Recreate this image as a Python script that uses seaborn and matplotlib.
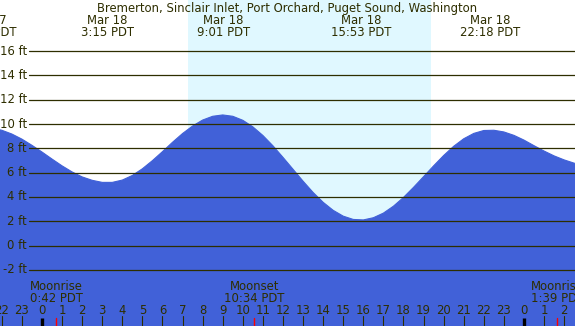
import numpy as np
import pandas as pd
import matplotlib
matplotlib.use('Agg')
import matplotlib.pyplot as plt
import seaborn as sns

# Tide height (ft), every half hour (hours from Mar 18 00:00 PDT)
hours = [-3.0, -2.5, -2.0, -1.5, -1.0, -0.5, 0.0, 0.5, 1.0, 1.5, 2.0, 2.5,
         3.0, 3.5, 4.0, 4.5, 5.0, 5.5, 6.0, 6.5, 7.0, 7.5, 8.0, 8.5,
         9.0, 9.5, 10.0, 10.5, 11.0, 11.5, 12.0, 12.5, 13.0, 13.5, 14.0, 14.5,
         15.0, 15.5, 16.0, 16.5, 17.0, 17.5, 18.0, 18.5, 19.0, 19.5, 20.0, 20.5,
         21.0, 21.5, 22.0, 22.5, 23.0, 23.5, 24.0, 24.5, 25.0, 25.5, 26.0, 26.5, 27.0]
height_ft = [9.70, 9.66, 9.49, 9.18, 8.76, 8.25, 7.70, 7.12, 6.56, 6.06, 5.65, 5.37,
             5.20, 5.20, 5.39, 5.77, 6.32, 6.99, 7.73, 8.50, 9.22, 9.84, 10.33, 10.64,
             10.75, 10.64, 10.31, 9.77, 9.06, 8.21, 7.26, 6.28, 5.30, 4.37, 3.56, 2.90,
             2.42, 2.15, 2.11, 2.29, 2.67, 3.24, 3.96, 4.79, 5.67, 6.56, 7.41, 8.17,
             8.79, 9.23, 9.47, 9.49, 9.35, 9.07, 8.68, 8.22, 7.78, 7.38, 7.05, 6.78, 6.52]

# High / low tide labels
extreme_hours = [-2.75, 3.25, 9.02, 15.88, 22.3]
extreme_dates = ['Mar 17', 'Mar 18', 'Mar 18', 'Mar 18', 'Mar 18']
extreme_times = ['21:15 PDT', '3:15 PDT', '9:01 PDT', '15:53 PDT', '22:18 PDT']

# Moon events
moon_hours = [0.70, 10.57, 25.65]
moon_names = ['Moonrise', 'Moonset', 'Moonrise']
moon_times = ['0:42 PDT', '10:34 PDT', '1:39 PDT']

sunrise, sunset = 7.27, 19.37
grid_levels = [-2, 0, 2, 4, 6, 8, 10, 12, 14, 16]
hour_ticks = list(range(-2, 27))

title = 'Bremerton, Sinclair Inlet, Port Orchard, Puget Sound, Washington'

night_col = '#b0c4da'
day_col = '#e0f8ff'
water_col = '#4161d8'
ink = '#2e2e00'
fs = 8.4

sns.set_theme(style='white')
plt.rcParams['font.family'] = ['DejaVu Sans']

tide = pd.DataFrame({'hour': hours, 'ft': height_ft})

fig = plt.figure(figsize=(5.75, 3.26), dpi=100)
ax = fig.add_axes([0, 0, 1, 1])
ax.set_facecolor(night_col)
xmin, xmax = -2.09, 26.54
ymin, ymax = -6.62, 20.21
ax.set_xlim(xmin, xmax)
ax.set_ylim(ymin, ymax)

ax.axvspan(sunrise, sunset, color=day_col, lw=0, zorder=0)

ax.fill_between(tide['hour'], ymin, tide['ft'], color=water_col, lw=0, zorder=1)
sns.lineplot(data=tide, x='hour', y='ft', color=water_col, lw=0.8, ax=ax, zorder=1)

# horizontal level lines with labels
x_line0 = -0.65
for lv in grid_levels:
    ax.plot([x_line0, xmax], [lv, lv], color=ink, lw=0.9, zorder=2)
    ax.text(27 / 575, lv, f'{lv} ft', transform=ax.get_yaxis_transform(),
            ha='right', va='center', fontsize=fs, color=ink, zorder=3)

# title and extreme labels
ax.text(0.5, 1 - 12 / 326, title, transform=ax.transAxes, ha='center', va='baseline',
        fontsize=fs, color=ink)
tx = ax.get_xaxis_transform()
for h, d, t in zip(extreme_hours, extreme_dates, extreme_times):
    ax.text(h, 1 - 24 / 326, d, transform=tx, ha='center', va='baseline', fontsize=fs, color=ink)
    ax.text(h, 1 - 36 / 326, t, transform=tx, ha='center', va='baseline', fontsize=fs, color=ink)

# moon labels
for h, n, t in zip(moon_hours, moon_names, moon_times):
    ax.text(h, 39 / 326, n, transform=tx, ha='center', va='center', fontsize=fs, color=ink)
    ax.text(h, 27 / 326, t, transform=tx, ha='center', va='center', fontsize=fs, color=ink)
    ax.plot([h, h], [0, 8 / 326], transform=tx, color='red', lw=1.0, zorder=4)

# hour ticks
for h in hour_ticks:
    ax.text(h, 15 / 326, str(h % 24), transform=tx, ha='center', va='center',
            fontsize=fs, color=ink)
    if h % 24 == 0:
        ax.plot([h, h], [0, 8 / 326], transform=tx, color='black', lw=2.4, zorder=3,
                solid_capstyle='butt')
    else:
        ax.plot([h, h], [0, 10 / 326], transform=tx, color=ink, lw=0.8, zorder=3)

ax.set_axis_off()
fig.savefig('out.png', dpi=100)
